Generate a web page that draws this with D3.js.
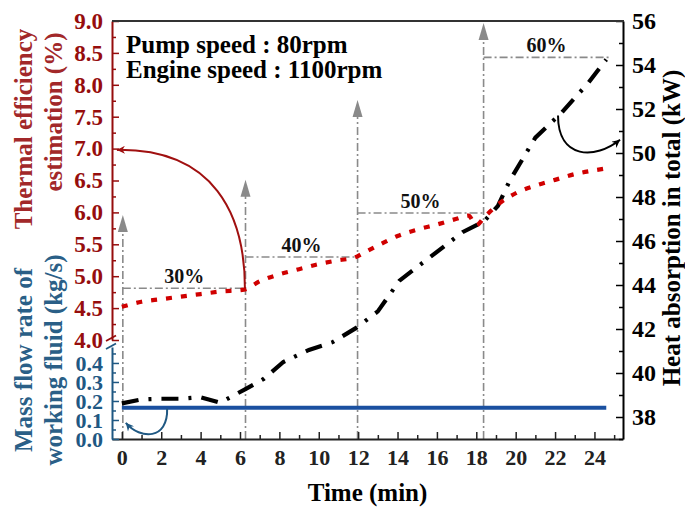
<!DOCTYPE html>
<html><head><meta charset="utf-8">
<script src="https://cdn.jsdelivr.net/npm/d3@7"></script>
<style>body{margin:0;background:#fff}svg{display:block}</style>
</head><body><svg id="c" width="685" height="510"></svg>
<script>
// ---------- data ----------
const effTime   = [0, 1, 2, 3, 4, 5, 6.2, 7, 8, 9, 10, 11, 11.8, 12.3, 13, 14, 15, 16, 17, 17.6, 18.0, 18.4, 19.0, 20, 21, 22, 23, 24, 24.6];
const effValues = [4.52, 4.6, 4.64, 4.68, 4.72, 4.76, 4.79, 4.92, 5.03, 5.11, 5.19, 5.25, 5.29, 5.37, 5.48, 5.63, 5.73, 5.81, 5.9, 5.95, 5.8, 5.92, 6.1, 6.3, 6.42, 6.51, 6.6, 6.66, 6.69];
const heatTime   = [0, 1, 2, 3, 4, 5, 6.3, 7.2, 8.2, 9.5, 10.7, 11.9, 13, 14.1, 15.7, 17.3, 18.4, 19.1, 19.7, 21, 22.3, 23.7, 24.6];
const heatValues = [38.62, 38.8, 38.83, 38.83, 38.9, 38.65, 39.28, 39.73, 40.5, 41.05, 41.4, 42.05, 42.8, 44.2, 45.3, 46.4, 46.9, 47.6, 48.75, 50.7, 51.8, 53.2, 54.25];
const massTime   = [0, 24.6];
const massValues = [0.165, 0.165];

const xTicks    = [0, 2, 4, 6, 8, 10, 12, 14, 16, 18, 20, 22, 24];
const effTicks  = [4.0, 4.5, 5.0, 5.5, 6.0, 6.5, 7.0, 7.5, 8.0, 8.5, 9.0];
const massTicks = [0.0, 0.1, 0.2, 0.3, 0.4];
const heatTicks = [38, 40, 42, 44, 46, 48, 50, 52, 54, 56];

const stageLabels   = ["30%", "40%", "50%", "60%"];
const stageStart    = [0.05, 6.28, 11.97, 18.37];
const stageEnd      = [6.28, 11.97, 18.37, 24.77];
const stageEff      = [4.81, 5.30, 5.99, 8.43];
const stageArrowTop = [5.96, 6.51, 7.76, 8.97];

const noteLines = ["Pump speed : 80rpm", "Engine speed : 1100rpm"];

// ---------- layout ----------
const L = 112, R = 623, T = 21, B = 439;
const FONT = "'Liberation Serif','Times New Roman',Times,serif";
const RED = "#960d0d", RED_T = "#a2282a", BLUE = "#1f5883", BLUE_T = "#2a5f87";
const LINE_RED = "#d00000", LINE_BLUE = "#1a50a0", GREY = "#8a8a8a";

const svg = d3.select("#c");
const x = d3.scaleLinear([-0.5, 25.45], [L, R]);
const yEff = d3.scaleLinear([4.0, 9.0], [340, T]);
const yMass = d3.scaleLinear([0, 0.484], [B, 347]);
const yHeat = d3.scaleLinear([37, 56], [B, T]);

const defs = svg.append("defs");
function marker(id, color, w, h) {
  defs.append("marker").attr("id", id).attr("viewBox", "0 0 10 10")
    .attr("refX", 10).attr("refY", 5).attr("markerWidth", w).attr("markerHeight", h)
    .attr("markerUnits", "userSpaceOnUse").attr("orient", "auto")
    .append("path").attr("d", "M0,0 L10,5 L0,10 L3,5 Z").attr("fill", color);
}
marker("mRed", "#a01010", 11, 8);
marker("mBlue", BLUE, 11, 8);
marker("mBlack", "#000", 11, 8);

// ---------- stage guide lines ----------
const g = svg.append("g");
stageStart.forEach((s, i) => {
  const xs = x(s);
  const tip = yEff(stageArrowTop[i]);
  g.append("line").attr("x1", xs).attr("x2", xs).attr("y1", B).attr("y2", tip + 15)
    .attr("stroke", GREY).attr("stroke-width", 1.6).attr("stroke-dasharray", "8,3,2,3");
  g.append("path").attr("d", `M${xs},${tip} L${xs - 5},${tip + 17} L${xs + 5},${tip + 17} Z`).attr("fill", GREY);
  g.append("line").attr("x1", xs).attr("x2", x(stageEnd[i])).attr("y1", yEff(stageEff[i])).attr("y2", yEff(stageEff[i]))
    .attr("stroke", GREY).attr("stroke-width", 1.6).attr("stroke-dasharray", "8,3,2,3");
  g.append("text").attr("x", (xs + x(stageEnd[i])) / 2).attr("y", yEff(stageEff[i]) - 5)
    .attr("text-anchor", "middle").attr("font-family", FONT).attr("font-weight", "bold")
    .attr("font-size", 20).attr("fill", "#111").text(stageLabels[i]);
});

// ---------- series ----------
const lineMass = d3.line().x((d, i) => x(massTime[i])).y(d => yMass(d));
svg.append("path").attr("d", lineMass(massValues)).attr("fill", "none")
  .attr("stroke", LINE_BLUE).attr("stroke-width", 4);

const lineHeat = d3.line().x((d, i) => x(heatTime[i])).y(d => yHeat(d));
svg.append("path").attr("d", lineHeat(heatValues)).attr("fill", "none")
  .attr("stroke", "#000").attr("stroke-width", 4.2).attr("stroke-dasharray", "17,10,3,10");

const lineEff = d3.line().x((d, i) => x(effTime[i])).y(d => yEff(d)).curve(d3.curveMonotoneX);
svg.append("path").attr("d", lineEff(effValues)).attr("fill", "none")
  .attr("stroke", LINE_RED).attr("stroke-width", 4.2).attr("stroke-dasharray", "6,9");

// ---------- curved annotation arrows ----------
function curve(p0, c1, c2, p3) {
  return `M${p0[0]},${p0[1]} C${c1[0]},${c1[1]} ${c2[0]},${c2[1]} ${p3[0]},${p3[1]}`;
}
svg.append("path").attr("d", curve([x(6.25), yEff(4.81)], [x(6.25), yEff(5.96)], [x(4.7), yEff(7.0)], [x(-0.25), yEff(6.98)]))
  .attr("fill", "none").attr("stroke", "#a01010").attr("stroke-width", 2).attr("marker-end", "url(#mRed)");
svg.append("path").attr("d", curve([x(2.3), yMass(0.16)], [x(2.35), yMass(-0.005)], [x(0.95), yMass(-0.005)], [x(0.2), yMass(0.085)]))
  .attr("fill", "none").attr("stroke", BLUE).attr("stroke-width", 2).attr("marker-end", "url(#mBlue)");
svg.append("path").attr("d", curve([x(22.15), yHeat(51.7)], [x(22.15), yHeat(49.7)], [x(24.05), yHeat(49.7)], [x(25.3), yHeat(50.6)]))
  .attr("fill", "none").attr("stroke", "#000").attr("stroke-width", 2).attr("marker-end", "url(#mBlack)");

// ---------- axes ----------
function styleAxis(sel, color, size) {
  sel.attr("font-family", FONT).attr("font-size", size).attr("font-weight", "bold");
  sel.select(".domain").attr("stroke", color).attr("stroke-width", 2);
  sel.selectAll(".tick line").attr("stroke", color).attr("stroke-width", 1.5);
  sel.selectAll(".tick text").attr("fill", color);
}
function range(a, b, s) { const r = []; for (let v = a; v <= b + 1e-9; v += s) r.push(+v.toFixed(3)); return r; }

// bottom
const gx = svg.append("g").attr("transform", `translate(0,${B})`)
  .call(d3.axisBottom(x).tickValues(xTicks).tickSizeInner(-7).tickSizeOuter(0).tickPadding(10).tickFormat(d3.format("d")));
styleAxis(gx, "#222", 22);
svg.append("g").attr("transform", `translate(0,${B})`)
  .call(d3.axisBottom(x).tickValues(range(1, 25, 2)).tickSizeInner(-4).tickSizeOuter(0).tickFormat(""))
  .call(s => { s.select(".domain").remove(); s.selectAll("line").attr("stroke", "#222").attr("stroke-width", 1.5); });

// left red
const gl = svg.append("g").attr("transform", `translate(${L},0)`)
  .call(d3.axisLeft(yEff).tickValues(effTicks).tickSizeInner(-7).tickSizeOuter(0).tickPadding(9).tickFormat(d3.format(".1f")));
styleAxis(gl, RED, 23);
svg.append("g").attr("transform", `translate(${L},0)`)
  .call(d3.axisLeft(yEff).tickValues(range(4.25, 8.75, 0.5)).tickSizeInner(-4).tickSizeOuter(0).tickFormat(""))
  .call(s => { s.select(".domain").remove(); s.selectAll("line").attr("stroke", RED).attr("stroke-width", 1.5); });

// left blue
const gm = svg.append("g").attr("transform", `translate(${L},0)`)
  .call(d3.axisLeft(yMass).tickValues(massTicks).tickSizeInner(-7).tickSizeOuter(0).tickPadding(9).tickFormat(d3.format(".1f")));
styleAxis(gm, BLUE, 22);
svg.append("g").attr("transform", `translate(${L},0)`)
  .call(d3.axisLeft(yMass).tickValues([0.05, 0.15, 0.25, 0.35, 0.45]).tickSizeInner(-4).tickSizeOuter(0).tickFormat(""))
  .call(s => { s.select(".domain").remove(); s.selectAll("line").attr("stroke", BLUE).attr("stroke-width", 1.5); });

// right
const gr = svg.append("g").attr("transform", `translate(${R},0)`)
  .call(d3.axisRight(yHeat).tickValues(heatTicks).tickSizeInner(-7).tickSizeOuter(0).tickPadding(9).tickFormat(d3.format("d")));
styleAxis(gr, "#000", 24);
svg.append("g").attr("transform", `translate(${R},0)`)
  .call(d3.axisRight(yHeat).tickValues(range(37, 55, 2)).tickSizeInner(-4).tickSizeOuter(0).tickFormat(""))
  .call(s => { s.select(".domain").remove(); s.selectAll("line").attr("stroke", "#000").attr("stroke-width", 1.5); });

// top frame
svg.append("line").attr("x1", L).attr("x2", R + 1).attr("y1", T).attr("y2", T).attr("stroke", "#333").attr("stroke-width", 2.2);

// axis break marks
svg.append("line").attr("x1", 106).attr("y1", 341).attr("x2", 116).attr("y2", 335.5).attr("stroke", RED).attr("stroke-width", 1.8);
svg.append("line").attr("x1", 106).attr("y1", 349).attr("x2", 116).attr("y2", 343.5).attr("stroke", BLUE).attr("stroke-width", 1.8);

// ---------- titles ----------
function vtext(txt, cx, cy, size, color) {
  svg.append("text").attr("transform", `translate(${cx},${cy}) rotate(-90)`)
    .attr("text-anchor", "middle").attr("font-family", FONT).attr("font-weight", "bold")
    .attr("font-size", size).attr("fill", color).text(txt);
}
vtext("Thermal efficiency", 32, 129, 25, RED_T);
vtext("estimation (%)", 62, 112, 25, RED_T);
vtext("Mass flow rate of", 32, 360, 25, BLUE_T);
vtext("working fluid (kg/s)", 62, 360, 25, BLUE_T);
vtext("Heat absorption in total (kW)", 680, 228, 25, "#000");

svg.append("text").attr("x", (L + R) / 2).attr("y", 501).attr("text-anchor", "middle")
  .attr("font-family", FONT).attr("font-weight", "bold").attr("font-size", 25).attr("fill", "#000").text("Time (min)");

noteLines.forEach((t, i) => {
  svg.append("text").attr("x", 126).attr("y", 53 + i * 25).attr("font-family", FONT).attr("font-weight", "bold")
    .attr("font-size", 25).attr("fill", "#000").text(t);
});
</script></body></html>
